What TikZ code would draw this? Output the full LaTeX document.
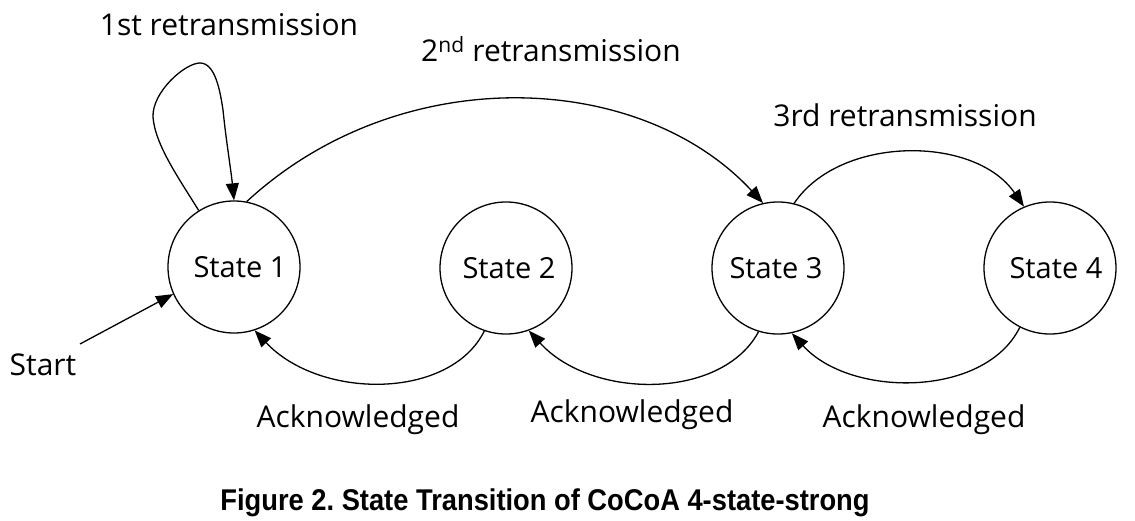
\documentclass[tikz,border=0pt]{standalone}
\usepackage{fontspec}
\setmainfont{Open Sans}
\newfontfamily\capfont{Liberation Sans}
\usetikzlibrary{arrows.meta}
\frenchspacing
\begin{document}
\begin{tikzpicture}[x=1pt,y=-1pt,
  state/.style={circle,draw,line width=1.3pt,minimum size=132pt,inner sep=0pt,font=\fontsize{29}{33}\selectfont},
  lbl/.style={inner sep=0pt,anchor=base,font=\fontsize{30}{34}\selectfont},
  conn/.style={line width=1.3pt,-{Triangle[length=17pt,width=13pt]}}]
\useasboundingbox (0,0) rectangle (1135,521);
\node[state] (s1) at (234,267) {\hspace*{12pt}State 1};
\node[state] (s2) at (506,268) {\hspace*{6pt}State 2};
\node[state] (s3) at (778,268) {State 3\hspace*{4pt}};
\node[state] (s4) at (1050,268) {\hspace*{12pt}State 4};
\node[lbl] (l1) at (229,36) {1st retransmission};
\node[lbl] (l2) at (551,62) {2\textsuperscript{nd} retransmission};
\node[lbl] (l3) at (905,127) {3rd retransmission};
\node[lbl] (st) at (43,375) {Start};
\node[lbl] (a1) at (358,427) {Acknowledged};
\node[lbl] (a2) at (632,422) {Acknowledged};
\node[lbl] (a3) at (924,427) {Acknowledged};
\node[inner sep=0pt,anchor=base,font=\capfont\bfseries\fontsize{30}{34}\selectfont] (cap) at (545,510) {\scalebox{0.91}[1]{Figure 2. State Transition of CoCoA 4-state-strong}};
% self loop
\draw[conn] (s1.122) .. controls (180,180) and (155,145) .. (153,117) .. controls (152,92) and (185,63) .. (200,63) .. controls (215,63) and (220,90) .. (223,110) .. controls (226,140) and (231,170) .. (s1.90);
% 2nd retransmission
\draw[conn] (s1.79) .. controls (400,60) and (640,70) .. (s3.103);
% 3rd retransmission
\draw[conn] (s3.76) .. controls (840,135) and (975,135) .. (s4.113);
% acknowledged
\draw[conn] (s2.251) .. controls (450,400) and (320,400) .. (s1.288);
\draw[conn] (s3.253) .. controls (722,400) and (592,400) .. (s2.290);
\draw[conn] (s4.243) .. controls (985,398) and (850,398) .. (s3.282);
% start
\coordinate (st0) at (80,344);
\draw[conn] (st0) -- (s1.204);
\end{tikzpicture}
\end{document}
